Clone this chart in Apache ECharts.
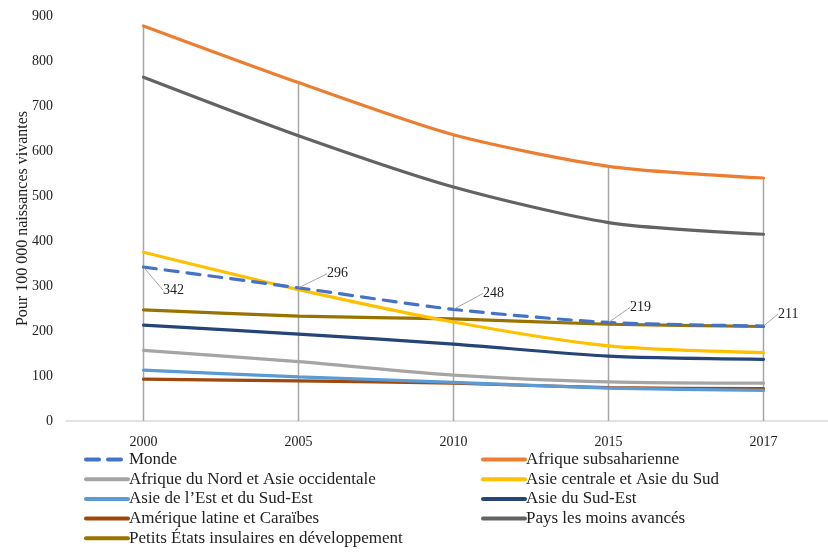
<!DOCTYPE html>
<html>
<head>
<meta charset="utf-8">
<script src="https://cdn.jsdelivr.net/npm/echarts@6/dist/echarts.min.js"></script>
<style>
  html, body { margin: 0; padding: 0; background: #fff; }
  #chart { width: 828px; height: 553px; }
</style>
</head>
<body>
<div id="chart"></div>
<script>
// années
const years = ['2000', '2005', '2010', '2015', '2017']

// valeurs (pour 100 000 naissances vivantes)
const monde = [342, 296, 248, 219, 211]
const afriqueSubsaharienne = [878, 752, 636, 566, 540]
const afriqueNordAsieOcc = [157, 132, 102, 87, 84]
const asieCentraleSud = [375, 292, 220, 167, 152]
const asieEstSudEst = [113, 98, 86, 73, 68]
const asieSudEst = [213, 193, 171, 144, 137]
const ameriqueLatine = [93, 89, 84, 74, 72]
const paysMoinsAvances = [764, 634, 520, 441, 415]
const petitsEtats = [247, 233, 227, 215, 210]

const yTicks = [0, 100, 200, 300, 400, 500, 600, 700, 800, 900]

const font = 'Liberation Serif'

const series = [
  { name: 'Monde', data: monde, color: '#4472C4', dashed: true },
  { name: 'Afrique subsaharienne', data: afriqueSubsaharienne, color: '#ED7D31' },
  { name: 'Afrique du Nord et Asie occidentale', data: afriqueNordAsieOcc, color: '#A5A5A5' },
  { name: 'Asie centrale et Asie du Sud', data: asieCentraleSud, color: '#FFC000' },
  { name: 'Asie de l\u2019Est et du Sud-Est', data: asieEstSudEst, color: '#5B9BD5' },
  { name: 'Asie du Sud-Est', data: asieSudEst, color: '#264478' },
  { name: 'Amérique latine et Caraïbes', data: ameriqueLatine, color: '#9E480E' },
  { name: 'Pays les moins avancés', data: paysMoinsAvances, color: '#636363' },
  { name: 'Petits États insulaires en développement', data: petitsEtats, color: '#997300' }
]

// lignes de rappel verticales : jusqu'à la plus haute série
const dropTop = years.map((_, i) => Math.max(...series.map(s => s.data[i])))

// décalage des étiquettes de Monde
const labelShift = [[14, 23], [23, -14], [24, -16], [16, -15], [9, -12]]

const lineSeries = series.map((s, k) => ({
  name: s.name,
  type: 'line',
  data: s.data,
  smooth: 0.25,
  symbol: s.dashed ? 'circle' : 'none',
  symbolSize: 1,
  showSymbol: !!s.dashed,
  z: 10 - k * 0.1,
  itemStyle: { color: s.color },
  lineStyle: {
    color: s.color,
    width: 3.2,
    type: s.dashed ? [13, 9] : 'solid',
    cap: 'round'
  },
  label: s.dashed ? {
    show: true,
    position: 'right',
    distance: 5,
    fontFamily: font,
    fontSize: 14,
    color: '#222'
  } : { show: false },
  labelLine: s.dashed ? { show: true, lineStyle: { color: '#a6a6a6', width: 1 } } : undefined,
  labelLayout: s.dashed ? function (p) {
    const d = labelShift[p.dataIndex] || [0, 0]
    return { dx: d[0], dy: d[1] }
  } : undefined,
  emphasis: { disabled: true },
  animation: false
}))

const leftNames = [0, 2, 4, 6, 8].map(i => series[i].name)
const rightNames = [1, 3, 5, 7].map(i => series[i].name)

const legendBase = {
  orient: 'vertical',
  top: 451,
  padding: 0,
  itemWidth: 42,
  itemHeight: 14,
  itemGap: 2.7,
  itemStyle: { opacity: 0 },
  lineStyle: { width: 4 },
  textStyle: { fontFamily: font, fontSize: 17, color: '#222', padding: [0, 0, 0, -4] },
  selectedMode: false
}

const chart = echarts.init(document.getElementById('chart'))
chart.setOption({
  backgroundColor: '#fff',
  animation: false,
  grid: {
    left: 66, top: 16, width: 775, height: 405,
    containLabel: false,
    outerBoundsMode: 'none'
  },
  xAxis: {
    type: 'category',
    data: years,
    boundaryGap: true,
    axisLine: { lineStyle: { color: '#d9d9d9', width: 1.5 } },
    axisTick: { show: false },
    axisLabel: { fontFamily: font, fontSize: 14, color: '#222', margin: 14 },
    splitLine: { show: false }
  },
  yAxis: {
    type: 'value',
    min: yTicks[0],
    max: yTicks[yTicks.length - 1],
    interval: 100,
    name: 'Pour 100 000 naissances vivantes',
    nameLocation: 'middle',
    nameGap: 35,
    nameMoveOverlap: false,
    nameTextStyle: { fontFamily: font, fontSize: 16, color: '#222' },
    axisLine: { show: false },
    axisTick: { show: false },
    axisLabel: { fontFamily: font, fontSize: 14, color: '#222', margin: 13 },
    splitLine: { show: false }
  },
  legend: [
    Object.assign({}, legendBase, { left: 84, data: leftNames }),
    Object.assign({}, legendBase, { left: 481, data: rightNames })
  ],
  series: [
    {
      name: 'rappel',
      type: 'bar',
      data: dropTop,
      barWidth: 1.5,
      itemStyle: { color: '#a6a6a6' },
      z: 1,
      silent: true,
      animation: false
    }
  ].concat(lineSeries)
})
window.addEventListener('resize', () => chart.resize())
</script>
</body>
</html>
